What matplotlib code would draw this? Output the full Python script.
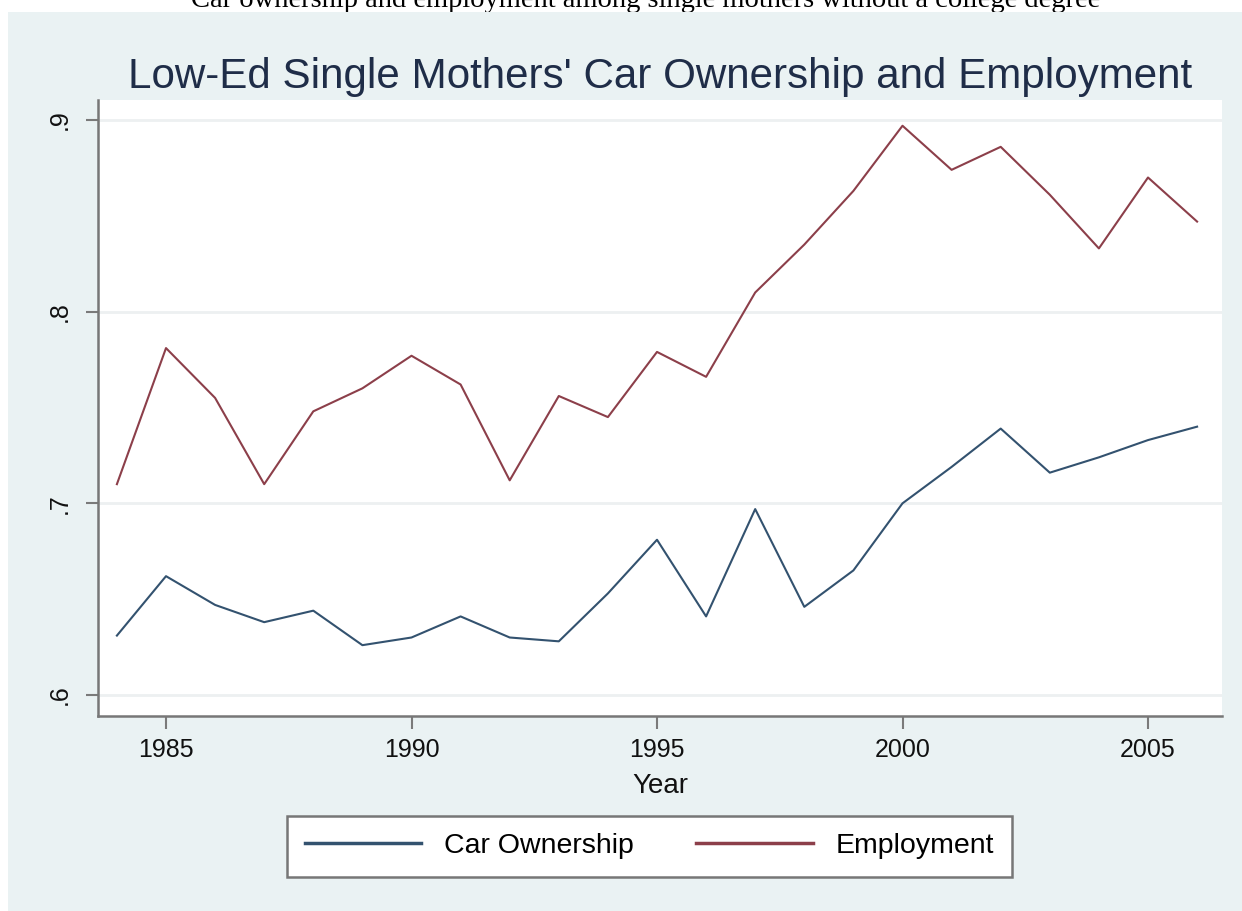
import matplotlib
matplotlib.use("Agg")
import matplotlib.pyplot as plt
from matplotlib.patches import Rectangle

years = list(range(1984, 2007))
car_ownership = [0.631, 0.662, 0.647, 0.638, 0.644, 0.626, 0.630, 0.641, 0.630, 0.628,
                 0.653, 0.681, 0.641, 0.697, 0.646, 0.665, 0.700, 0.719, 0.739, 0.716,
                 0.724, 0.733, 0.740]
employment = [0.710, 0.781, 0.755, 0.710, 0.748, 0.760, 0.777, 0.762, 0.712, 0.756,
              0.745, 0.779, 0.766, 0.810, 0.835, 0.863, 0.897, 0.874, 0.886, 0.861,
              0.833, 0.870, 0.847]
x_ticks = [1985, 1990, 1995, 2000, 2005]
y_ticks = [0.6, 0.7, 0.8, 0.9]
y_tick_labels = [".6", ".7", ".8", ".9"]
series_names = ["Car Ownership", "Employment"]

W, H = 1242, 911
fig = plt.figure(figsize=(W / 100, H / 100), dpi=100)
fig.patch.set_facecolor("white")

SANS = ["Liberation Sans", "DejaVu Sans"]

# caption above the graph (clipped at top)
fig.text(646 / W, 1 - 7 / H,
         "Car ownership and employment among single mothers without a college degree",
         ha="center", va="baseline", fontsize=20.5, family="Liberation Serif",
         color="black", zorder=0.5)

# Stata graph region
fig.patches.append(Rectangle((8 / W, 0), 1 - 8 / W, 1 - 12 / H, transform=fig.transFigure,
                             facecolor="#EAF2F3", edgecolor="none", zorder=1))

L, R, T, B = 98, 1222, 100, 716
ax = fig.add_axes([L / W, 1 - B / H, (R - L) / W, (B - T) / H])
ax.set_zorder(2)
ax.set_facecolor("white")

ax.plot(years, car_ownership, color="#33526f", lw=1.5, label=series_names[0])
ax.plot(years, employment, color="#8c3f4a", lw=1.5, label=series_names[1])

# axis limits from pixel mapping
x_per = (1148 - 166) / 20.0
ax.set_xlim(1985 - (166 - L) / x_per, 2005 + (R - 1148) / x_per)
y_per = (695 - 120) / 0.3
ax.set_ylim(0.6 - (B - 695) / y_per, 0.9 + (120 - T) / y_per)

ax.set_xticks(x_ticks)
ax.set_xticklabels([str(v) for v in x_ticks], fontsize=18, family=SANS, color="#111111")
ax.set_yticks(y_ticks)
ax.set_yticklabels(y_tick_labels, fontsize=18, family=SANS, color="#111111",
                   rotation=90, va="center")
ax.tick_params(axis="x", length=9, width=1.5, color="#7a7a7a", pad=7)
ax.tick_params(axis="y", length=9, width=1.5, color="#7a7a7a", pad=10)

ax.grid(axis="y", color="#edf0f1", lw=2.0)
ax.set_axisbelow(True)
for s in ["top", "right"]:
    ax.spines[s].set_visible(False)
for s in ["left", "bottom"]:
    ax.spines[s].set_color("#777777")
    ax.spines[s].set_linewidth(1.8)

ax.set_xlabel("Year", fontsize=20, family=SANS, color="#111111", labelpad=8)

fig.text(((L + R) / 2) / W, 1 - 88 / H,
         "Low-Ed Single Mothers' Car Ownership and Employment",
         ha="center", va="baseline", fontsize=30.3, family=SANS,
         color="#1f2d48", zorder=3)

handles, labels = ax.get_legend_handles_labels()
leg = fig.legend(handles, labels, ncol=2, mode="expand",
                 bbox_to_anchor=(287 / W, 1 - 877 / H, (1012 - 287) / W, (877 - 818) / H),
                 loc="lower left", prop={"family": SANS, "size": 20.5},
                 frameon=True, fancybox=False, handlelength=4.1, handletextpad=0.8,
                 borderpad=0.62, columnspacing=2.0, borderaxespad=0)
leg.get_frame().set_edgecolor("#777777")
leg.get_frame().set_linewidth(1.8)
leg.get_frame().set_facecolor("white")
leg.get_frame().set_alpha(1)
for line in leg.get_lines():
    line.set_linewidth(2.5)
leg.set_zorder(5)

fig.savefig("out.png", dpi=100)
